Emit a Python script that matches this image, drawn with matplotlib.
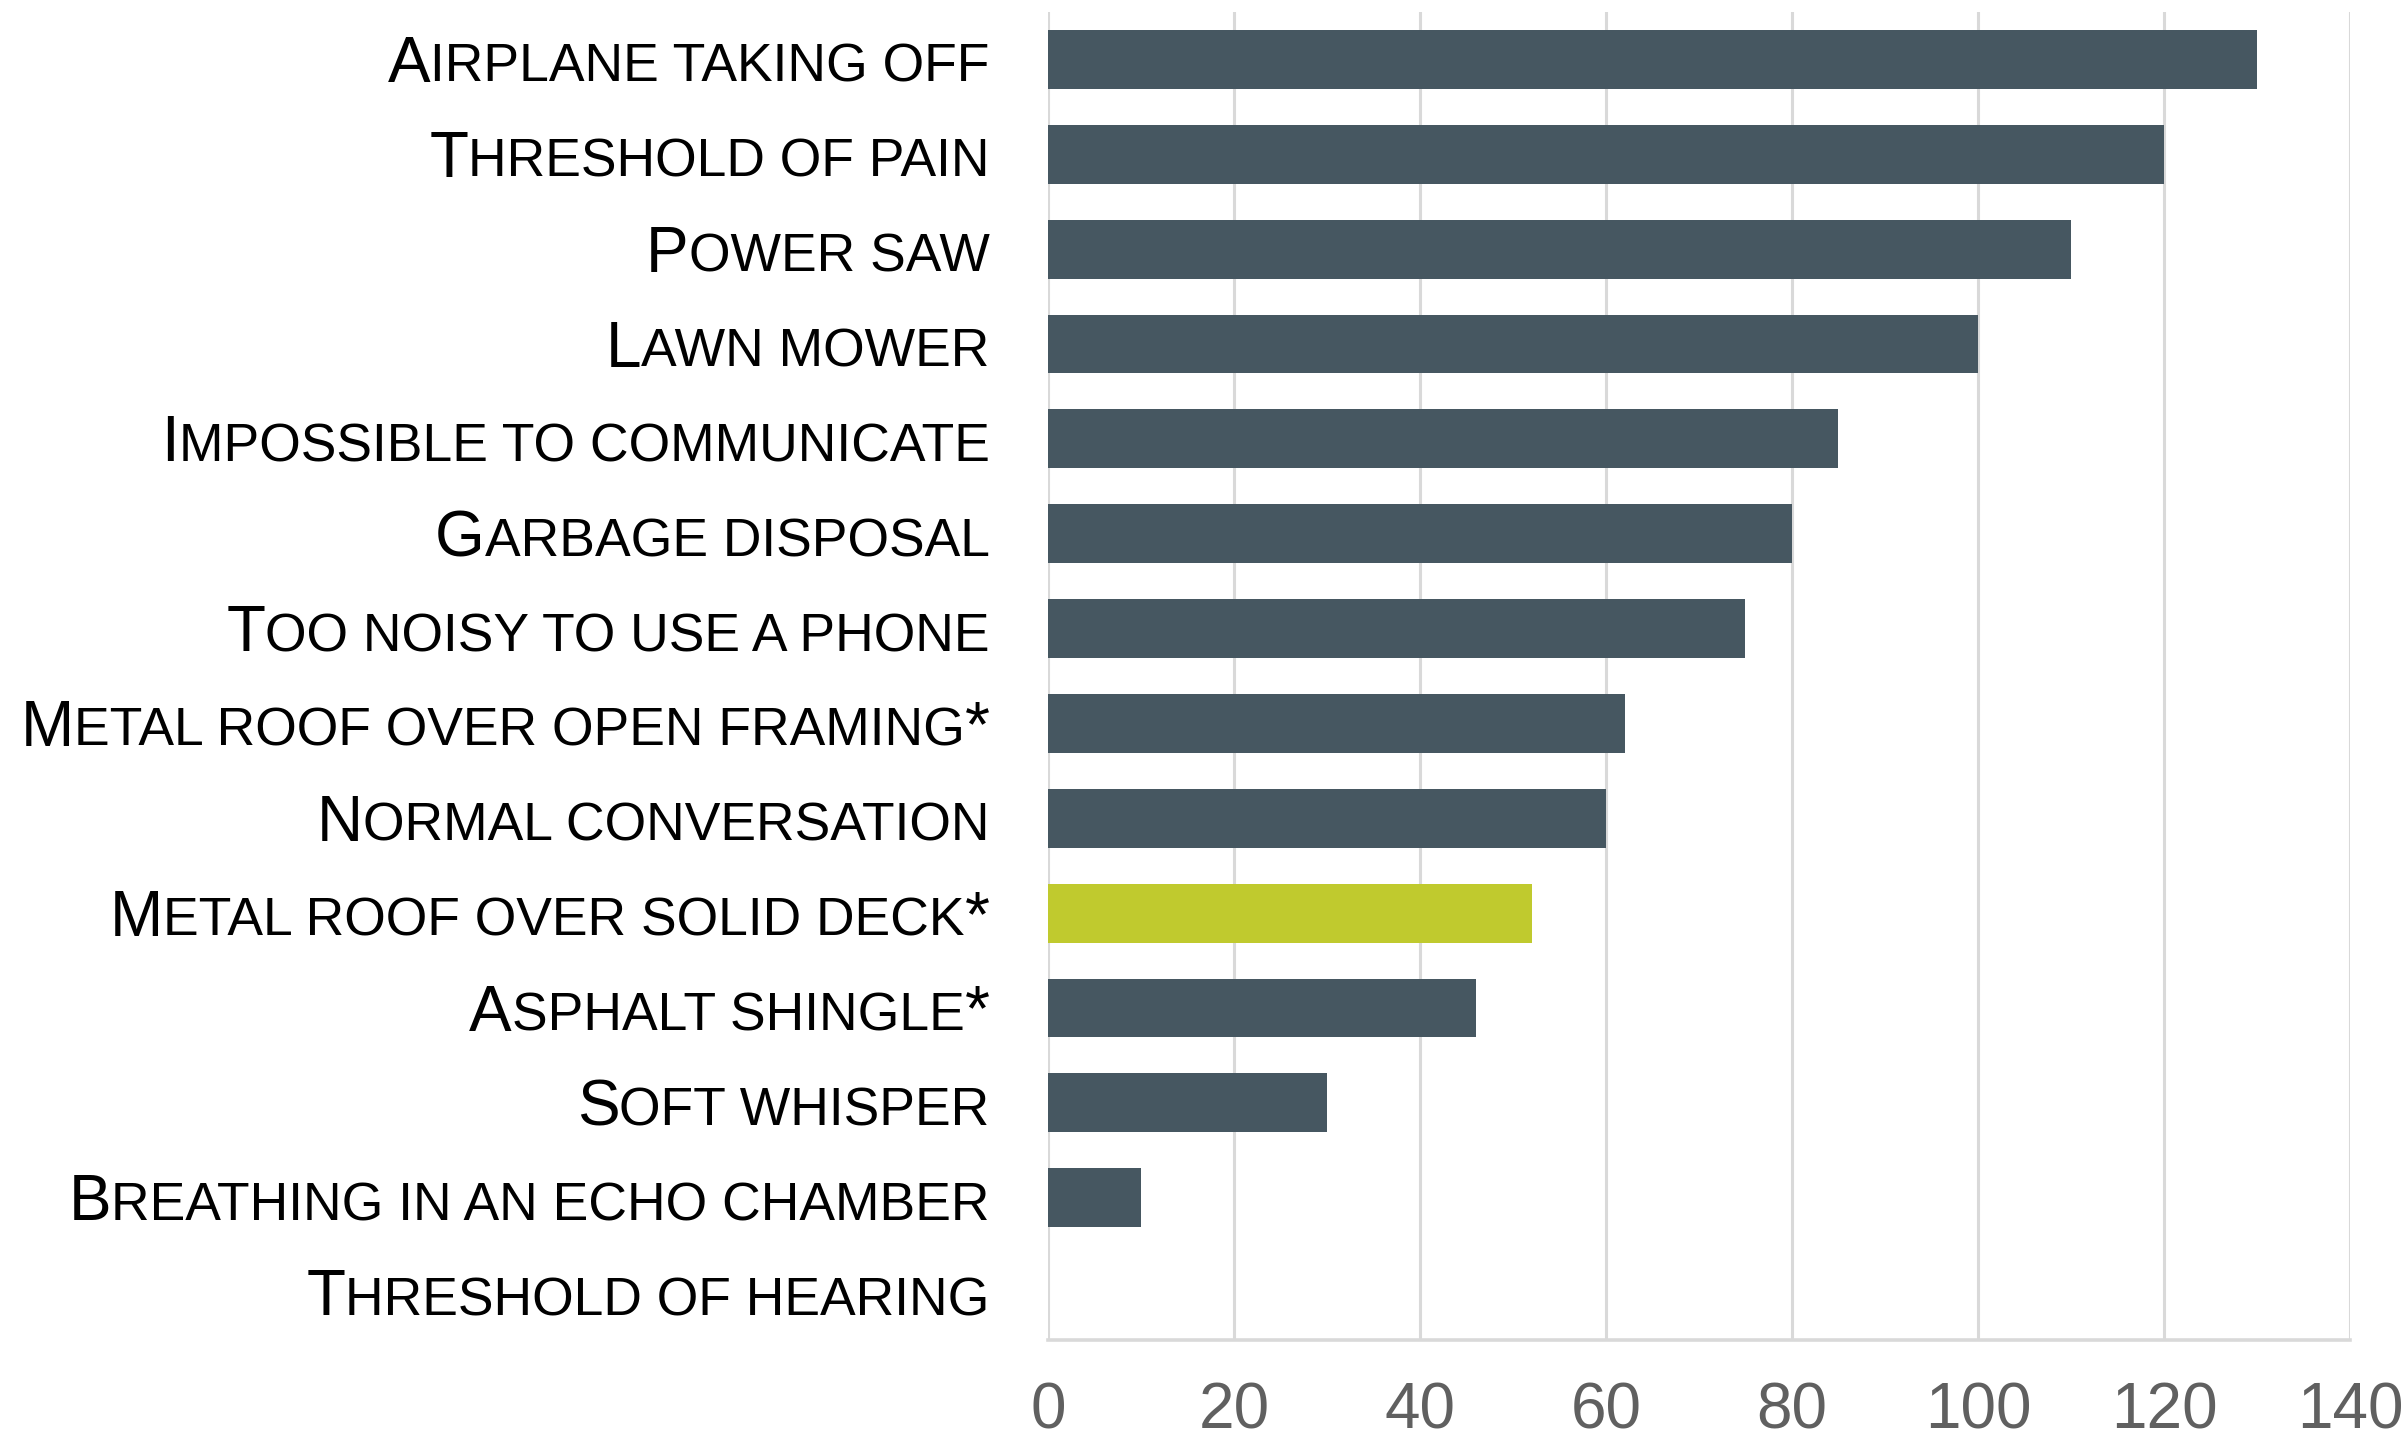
import matplotlib
matplotlib.use("Agg")
import matplotlib.pyplot as plt
from matplotlib.offsetbox import TextArea, HPacker, AnnotationBbox

categories = [
    "Airplane taking off",
    "Threshold of pain",
    "Power saw",
    "Lawn mower",
    "Impossible to communicate",
    "Garbage disposal",
    "Too noisy to use a phone",
    "Metal roof over open framing*",
    "Normal conversation",
    "Metal roof over solid deck*",
    "Asphalt shingle*",
    "Soft whisper",
    "Breathing in an echo chamber",
    "Threshold of hearing",
]
values = [130, 120, 110, 100, 85, 80, 75, 62, 60, 52, 46, 30, 10, 0]
highlight = "Metal roof over solid deck*"
xticks = [0, 20, 40, 60, 80, 100, 120, 140]

DARK = "#465761"
HIGHLIGHT = "#c0ca2e"
BIG = 46
SMALL = 38.5
FONT = "Liberation Sans"

fig = plt.figure(figsize=(24.07, 14.41), dpi=100)
ax = fig.add_axes([0.4354, 0.0701, 0.9763 - 0.4354, 0.9917 - 0.0701])

ypos = list(range(len(categories)))
colors = [HIGHLIGHT if c == highlight else DARK for c in categories]
ax.barh(ypos, values, height=0.62, color=colors, zorder=3)

ax.set_xlim(0, 140)
ax.set_ylim(len(categories) - 0.5, -0.5)
ax.set_xticks(xticks)
ax.set_xticklabels([str(t) for t in xticks], fontsize=46, color="#606060", family=FONT)
ax.set_yticks([])
ax.tick_params(axis="x", length=0, pad=30)
ax.grid(axis="x", color="#d9d9d9", linewidth=2.2, zorder=0)
for s in ["top", "right", "left"]:
    ax.spines[s].set_visible(False)
ax.spines["bottom"].set_color("#d9d9d9")
ax.spines["bottom"].set_linewidth(2.6)


def runs(label):
    out = []
    for ch in label:
        if ch.islower() or ch == " ":
            size = SMALL
            c = ch.upper()
        else:
            size = BIG
            c = ch
        if out and out[-1][1] == size:
            out[-1][0] += c
        else:
            out.append([c, size])
    return out


for i, lab in enumerate(categories):
    children = [TextArea(t, textprops=dict(fontsize=s, family=FONT, color="black"))
                for t, s in runs(lab)]
    pack = HPacker(children=children, align="baseline", pad=0, sep=0)
    ab = AnnotationBbox(pack, (0, i), xycoords="data", xybox=(-42, -4),
                        boxcoords="offset points", box_alignment=(1, 0.5),
                        frameon=False, pad=0, annotation_clip=False)
    ax.add_artist(ab)

fig.savefig("out.png", dpi=100, facecolor="white")
